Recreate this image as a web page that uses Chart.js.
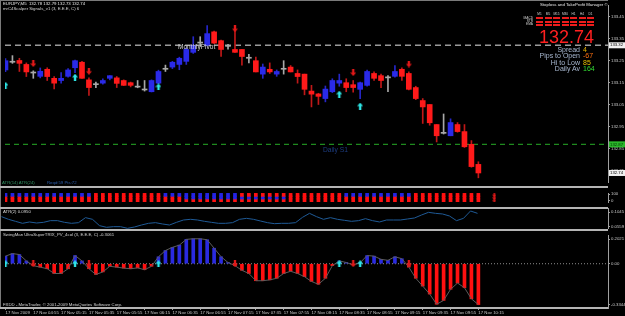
<!DOCTYPE html>
<html>
<head>
<meta charset="utf-8">
<script src="https://cdn.jsdelivr.net/npm/chart.js@4.4.1/dist/chart.umd.min.js"></script>
<style>
body { margin: 0; background: #000; width: 625px; height: 316px; overflow: hidden; position: relative; font-family: "Liberation Sans", Arial, sans-serif; }
canvas { position: absolute; left: 0; }
.t { position: absolute; white-space: nowrap; line-height: 1; }
.ln { position: absolute; background: #b4b4b4; z-index: 5; }
.cell { position: absolute; background: #ee1c1c; }
</style>
</head>
<body>
<canvas id="main" width="625" height="187" style="top:0"></canvas>
<canvas id="sig" width="625" height="19" style="top:188px"></canvas>
<canvas id="atr" width="625" height="21" style="top:208px"></canvas>
<canvas id="osc" width="625" height="86" style="top:230px"></canvas>

<div class="ln" style="left:0;top:0;width:608px;height:1px;background:#7a7a7a"></div>
<div class="ln" style="left:0;top:0;width:1px;height:309px;background:#7a7a7a"></div>
<div class="ln" style="left:0;top:186px;width:608px;height:2px"></div>
<div class="ln" style="left:0;top:207px;width:608px;height:1.5px"></div>
<div class="ln" style="left:0;top:229px;width:608px;height:1.5px"></div>
<div class="ln" style="left:0;top:307px;width:608px;height:1.5px"></div>

<div class="t" style="left:3px;top:2px;font-size:4.3px;color:#e6e6e6">EURJPY,M5&nbsp; 132.78 132.79 132.73 132.74</div>
<div class="t" style="left:3px;top:7px;font-size:4.3px;color:#d6d6d6">mrC4Scalper Signals_v1 (3, E.E.E, C) 6</div>
<div class="t" style="left:178px;top:44px;font-size:6.5px;color:#d8d8d8">MonthlyPivot</div>
<div class="t" style="left:323px;top:146.5px;font-size:6.7px;color:#1d3d80">Daily S1</div>
<div class="t" style="left:2px;top:181px;font-size:4.3px;color:#2f8f5f">ATR(14) ATR(24)</div>
<div class="t" style="left:47px;top:181px;font-size:4.3px;color:#2a5caa">Reqd:59 Pts:72</div>
<div class="t" style="left:540px;top:3px;font-size:4.3px;color:#e6e6e6">Stoploss and TakeProfit Manager ©</div>
<div class="t" style="left:539px;top:27.6px;font-size:18px;color:#ff2020">132.74</div>
<div id="stats"></div>
<div id="matrix"></div>
<div class="t" style="left:3px;top:210px;font-size:4.3px;color:#d6d6d6">ATR(2) 0.0950</div>
<div class="t" style="left:3px;top:233px;font-size:4.3px;color:#d6d6d6">SwingMan UltraSuperTRIX_PV_4col (3, E.E.E, C) -0.3061</div>
<div class="t" style="left:3px;top:302.5px;font-size:4.3px;color:#d6d6d6">FXDD - MetaTrader, © 2001-2009 MetaQuotes Software Corp.</div>

<script>
// EURJPY M5, 17 Nov 2009 04:35 .. 10:15 (69 bars)
const opens = [133.208,133.243,133.251,133.233,133.194,133.179,133.211,133.170,133.160,133.179,133.218,133.243,133.163,133.141,133.148,133.170,133.172,133.160,133.150,133.130,133.117,133.109,133.148,133.211,133.221,133.233,133.247,133.288,133.330,133.320,133.381,133.341,133.315,133.301,133.301,133.261,133.250,133.189,133.211,133.189,133.211,133.221,133.192,133.189,133.112,133.099,133.078,133.109,133.148,133.150,133.141,133.120,133.138,133.192,133.182,133.172,133.179,133.211,133.192,133.128,133.069,133.051,132.960,132.920,132.909,132.960,132.928,132.870,132.779];
const highs = [133.260,133.273,133.261,133.240,133.204,133.217,133.218,133.178,133.196,133.214,133.253,133.247,133.172,133.153,133.168,133.182,133.178,133.163,133.153,133.160,133.160,133.163,133.207,133.230,133.247,133.266,133.308,133.359,133.359,133.409,133.385,133.344,133.324,133.385,133.301,133.279,133.266,133.235,133.240,133.208,133.250,133.228,133.208,133.189,133.138,133.102,133.135,133.168,133.189,133.168,133.160,133.153,133.207,133.199,133.189,133.182,133.228,133.218,133.199,133.134,133.078,133.051,132.960,133.008,132.986,132.969,132.960,132.887,132.791];
const lows = [133.200,133.238,133.201,133.178,133.170,133.172,133.160,133.122,133.148,133.175,133.196,133.169,133.092,133.128,133.143,133.163,133.128,133.137,133.131,133.127,133.112,133.108,133.146,133.201,133.214,133.209,133.233,133.283,133.315,133.317,133.327,133.269,133.302,133.288,133.230,133.240,133.199,133.170,133.192,133.179,133.189,133.199,133.148,133.095,133.040,133.051,133.063,133.105,133.134,133.109,133.107,133.078,133.134,133.160,133.128,133.109,133.175,133.160,133.117,133.073,132.965,132.957,132.881,132.917,132.909,132.925,132.856,132.766,132.718];
const closes = [133.250,133.243,133.238,133.199,133.194,133.202,133.178,133.148,133.170,133.208,133.250,133.170,133.128,133.141,133.160,133.182,133.147,133.138,133.138,133.130,133.117,133.160,133.201,133.211,133.243,133.261,133.301,133.320,133.330,133.373,133.330,133.301,133.315,133.288,133.269,133.261,133.199,133.221,133.199,133.201,133.211,133.199,133.178,133.120,133.098,133.088,133.121,133.160,133.160,133.128,133.128,133.150,133.201,133.170,133.160,133.172,133.201,133.179,133.120,133.078,133.040,132.968,132.909,132.920,132.969,132.928,132.859,132.769,132.740];

// scalper signals: buy arrows under bars, sell arrows over bars
const buyBars = [0, 10, 22, 48, 51];
const buyPrices = [133.138, 133.175, 133.131, 133.098, 133.044];
const sellBars = [4, 12, 33, 50, 58];
const sellPrices = [133.237, 133.202, 133.395, 133.196, 133.235];

const monthlyPivot = 133.32;
const dailyS1 = 132.87;
const lastPrice = 132.74;
const priceTicks = [133.45, 133.35, 133.25, 133.15, 133.05, 132.95, 132.85, 132.75];

// signal matrix rows (B = blue, R = red)
const sigRow1 = 'BBBBBBBBBBBBBRRRRRRRRRRBBBBBBBBBBBRRRRRRRRRRRRRRRBBBBBBBBBBRRRRRRRRRR';
const sigRow2 = 'RRRRRRRRRRRRRRRRRRRRRRRRRRBBBBBBBBBBBBBBBRRRRRRRRRRRRRRRRRRRRRRRRRRRR';
const sigRow3 = 'RRRRRRRRRRRRRRRRRRRRRRRRRRRRRRRRRRRRRRRRRRRRRRRRRRRRRRRRRRRRRRRRRRRRR';
const sigRowLevels = [88, 50, 10];
const sigTicks = [100, 0];

const atrValues = [0.0898,0.0808,0.0740,0.0673,0.0718,0.0684,0.0706,0.0763,0.0763,0.0706,0.0673,0.0695,0.0864,0.0808,0.0594,0.0538,0.0560,0.0560,0.0504,0.0549,0.0616,0.0673,0.0695,0.0650,0.0616,0.0706,0.0785,0.0808,0.0785,0.0740,0.0706,0.0673,0.0673,0.0695,0.0808,0.0841,0.0808,0.0751,0.0695,0.0661,0.0673,0.0673,0.0695,0.0875,0.1010,0.0898,0.0808,0.0864,0.0808,0.0774,0.0740,0.0763,0.0830,0.0763,0.0718,0.0785,0.0785,0.0785,0.0819,0.0853,0.0954,0.1044,0.1010,0.0988,0.0920,0.0763,0.0841,0.1089,0.1010];
const atrTicks = [0.1045, 0.0559];

const trixValues = [0.062,0.083,0.075,0.023,-0.016,-0.028,-0.041,-0.080,-0.080,-0.041,0.067,0.023,-0.041,-0.088,-0.067,-0.021,-0.028,-0.036,-0.041,-0.034,-0.049,-0.021,0.057,0.108,0.134,0.152,0.199,0.204,0.204,0.196,0.127,0.057,0.010,-0.016,-0.054,-0.080,-0.139,-0.139,-0.132,-0.119,-0.080,-0.062,-0.080,-0.106,-0.145,-0.168,-0.119,-0.016,0.023,0.010,-0.010,0.008,0.067,0.062,0.036,0.028,0.057,0.041,-0.028,-0.119,-0.183,-0.248,-0.331,-0.300,-0.209,-0.158,-0.196,-0.287,-0.334];
const trixTicks = [0.2021, 0, -0.3344];

const timeTickBars = [0,4,8,12,16,20,24,28,32,36,40,44,48,52,56,60,64,68];
const timeLabels = ['17 Nov 2009','17 Nov 04:55','17 Nov 05:15','17 Nov 05:35','17 Nov 05:55','17 Nov 06:15','17 Nov 06:35','17 Nov 06:55','17 Nov 07:15','17 Nov 07:35','17 Nov 07:55','17 Nov 08:15','17 Nov 08:35','17 Nov 08:55','17 Nov 09:15','17 Nov 09:35','17 Nov 09:55','17 Nov 10:15'];

const stats = [['Spread', '4', '#e8b400'], ['Pips to Open', '-67', '#ff7010'], ['Hi to Low', '85', '#e8c000'], ['Daily Av', '164', '#33dd33']];
const tfLabels = ['M1', 'M5', 'M15', 'M30', 'H1', 'H4', 'D1'];
const tfRows = ['MACD', 'STR', 'EMA'];

const XMIN = -0.07, XMAX = 86.64;
const BLUE = '#2a2ae8', RED = '#ff1a1a', GREY = '#a8a8a8';
const bars = opens.map((_, i) => i);
const axisFont = { family: 'Liberation Sans', size: 4.3 };

// info panel text
const statsBox = document.getElementById('stats');
stats.forEach((s, k) => {
    const top = 45.8 + k * 6.4;
    statsBox.innerHTML += `<div class="t" style="right:45px;top:${top}px;font-size:7px;color:#a8b8d0">${s[0]}</div>` +
        `<div class="t" style="left:583px;top:${top}px;font-size:7px;color:${s[2]}">${s[1]}</div>`;
});
const matrixBox = document.getElementById('matrix');
tfLabels.forEach((l, c) => {
    matrixBox.innerHTML += `<div class="t" style="left:${536 + c * 8.5}px;width:7px;text-align:center;top:12.5px;font-size:3.2px;color:#d0d0d0">${l}</div>`;
    tfRows.forEach((r, k) => {
        matrixBox.innerHTML += `<div class="cell" style="left:${536 + c * 8.5}px;top:${17.3 + k * 3.3}px;width:7px;height:2px"></div>`;
    });
});
tfRows.forEach((r, k) => {
    matrixBox.innerHTML += `<div class="t" style="right:92px;top:${16.6 + k * 3.3}px;font-size:3.2px;color:#d0d0d0">${r}</div>`;
});

function makeArrow(color, up, w, h) {
    const c = document.createElement('canvas');
    c.width = w; c.height = h;
    const g = c.getContext('2d');
    const m = h * 0.5, s1 = w * 0.3, s2 = w * 0.7;
    g.fillStyle = color;
    g.beginPath();
    if (up) {
        g.moveTo(w / 2, 0); g.lineTo(w, m); g.lineTo(s2, m); g.lineTo(s2, h); g.lineTo(s1, h); g.lineTo(s1, m); g.lineTo(0, m);
    } else {
        g.moveTo(w / 2, h); g.lineTo(w, m); g.lineTo(s2, m); g.lineTo(s2, 0); g.lineTo(s1, 0); g.lineTo(s1, m); g.lineTo(0, m);
    }
    g.closePath();
    g.fill();
    return c;
}
const upArrow = makeArrow('#2ee6e6', true, 6, 7);
const downArrow = makeArrow('#e01818', false, 6, 7);
const tinyDown = makeArrow('#e01818', false, 4, 5);

function fixedWidth(scale) {
    scale.width = 17;
    scale.paddingTop = 0;
    scale.paddingBottom = 0;
}
function rightAxis(min, max, ticks, fmt) {
    return {
        position: 'right', min: min, max: max,
        afterFit: fixedWidth,
        afterBuildTicks: s => { s.ticks = ticks.map(v => ({ value: v })); },
        ticks: { callback: fmt, font: axisFont, color: '#c8c8c8', padding: 1 },
        grid: { drawOnChartArea: false, color: '#a0a0a0', tickLength: 2 },
        border: { color: '#a0a0a0' }
    };
}
const hiddenX = { type: 'linear', min: XMIN, max: XMAX, display: false, offset: false };
const baseOptions = {
    responsive: false, animation: false, devicePixelRatio: 1, events: [],
    plugins: { legend: { display: false }, tooltip: { enabled: false } }
};

function candleColor(i, up, down, flat) {
    if (closes[i] > opens[i]) return up;
    if (closes[i] < opens[i]) return down;
    return flat;
}

// price boxes drawn on the right axis
const priceBoxes = [
    { value: monthlyPivot, bg: '#f0f0f0', fg: '#000' },
    { value: dailyS1, bg: '#2ab82a', fg: '#003000' },
    { value: lastPrice, bg: '#f0f0f0', fg: '#000' }
];
const priceBoxPlugin = {
    id: 'priceBoxes',
    afterDraw(chart) {
        const y = chart.scales.y, ctx = chart.ctx;
        ctx.save();
        ctx.font = '4.3px "Liberation Sans"';
        ctx.textBaseline = 'middle';
        priceBoxes.forEach(b => {
            const py = y.getPixelForValue(b.value);
            ctx.fillStyle = b.bg;
            ctx.fillRect(609, py - 3, 16, 6);
            ctx.fillStyle = b.fg;
            ctx.fillText(b.value.toFixed(2), 610, py);
        });
        ctx.restore();
    }
};

new Chart(document.getElementById('main'), {
    type: 'bar',
    data: {
        datasets: [
            {
                type: 'bar', order: 3, grouped: false, barThickness: 1,
                data: bars.map(i => ({ x: i, y: [lows[i], highs[i]] })),
                backgroundColor: bars.map(i => candleColor(i, '#2626c8', '#c01818', GREY))
            },
            {
                type: 'bar', order: 2, grouped: false, barThickness: 5, minBarLength: 1,
                data: bars.map(i => ({ x: i, y: [opens[i], closes[i]] })),
                backgroundColor: bars.map(i => candleColor(i, BLUE, RED, GREY))
            },
            {
                type: 'line', order: 5, pointRadius: 0, borderWidth: 1.5, borderDash: [6, 4], borderColor: '#9a9a9a',
                data: [{ x: XMIN, y: monthlyPivot }, { x: XMAX, y: monthlyPivot }]
            },
            {
                type: 'line', order: 5, pointRadius: 0, borderWidth: 1.2, borderDash: [5, 4], borderColor: '#1f8a1f',
                data: [{ x: XMIN, y: dailyS1 }, { x: XMAX, y: dailyS1 }]
            },
            {
                type: 'scatter', order: 0, pointStyle: upArrow,
                data: buyBars.map((b, k) => ({ x: b, y: buyPrices[k] }))
            },
            {
                type: 'scatter', order: 0, pointStyle: downArrow,
                data: sellBars.map((b, k) => ({ x: b, y: sellPrices[k] }))
            }
        ]
    },
    options: Object.assign({}, baseOptions, {
        layout: { padding: { left: 1, top: 1, bottom: 1, right: 0 } },
        scales: {
            x: hiddenX,
            y: rightAxis(132.699, 133.503, priceTicks, v => v.toFixed(2))
        }
    }),
    plugins: [priceBoxPlugin]
});

const sigColor = ch => ch === 'B' ? '#2424e6' : '#ff1010';
new Chart(document.getElementById('sig'), {
    type: 'scatter',
    data: {
        datasets: [sigRow1, sigRow2, sigRow3].map((row, r) => ({
            data: bars.map(i => ({ x: i, y: sigRowLevels[r] })),
            pointStyle: 'rect', pointRadius: 2.6, pointBorderWidth: 0,
            pointBackgroundColor: bars.map(i => sigColor(row[i]))
        })).concat([{
            data: sigRowLevels.map(v => ({ x: 70.3, y: v })),
            pointStyle: tinyDown
        }])
    },
    options: Object.assign({}, baseOptions, {
        layout: { padding: { left: 1, top: 0, bottom: 0, right: 0 } },
        scales: {
            x: hiddenX,
            y: rightAxis(-15, 115, sigTicks, v => String(v))
        }
    })
});

new Chart(document.getElementById('atr'), {
    type: 'line',
    data: {
        datasets: [{
            data: bars.map(i => ({ x: i, y: atrValues[i] })),
            borderColor: '#1f5a96', borderWidth: 1, pointRadius: 0, tension: 0
        }]
    },
    options: Object.assign({}, baseOptions, {
        layout: { padding: { left: 1, top: 0, bottom: 0, right: 0 } },
        scales: {
            x: hiddenX,
            y: rightAxis(0.0481, 0.1190, atrTicks, v => v.toFixed(4))
        }
    })
});

new Chart(document.getElementById('osc'), {
    type: 'bar',
    data: {
        datasets: [
            {
                type: 'bar', order: 3, grouped: false, barThickness: 3,
                data: bars.map(i => ({ x: i, y: trixValues[i] })),
                backgroundColor: bars.map(i => trixValues[i] >= 0 ? '#2a2ae0' : '#ff1010')
            },
            {
                type: 'line', order: 2, pointRadius: 0, borderWidth: 1, borderColor: '#5c5c5c', tension: 0,
                data: bars.map(i => ({ x: i, y: trixValues[i] }))
            },
            {
                type: 'line', order: 4, pointRadius: 0, borderWidth: 1, borderDash: [1, 2], borderColor: '#8c8c8c',
                data: [{ x: XMIN, y: 0 }, { x: XMAX, y: 0 }]
            },
            {
                type: 'scatter', order: 0, pointStyle: upArrow,
                data: buyBars.map(b => ({ x: b, y: 0 }))
            },
            {
                type: 'scatter', order: 0, pointStyle: downArrow,
                data: sellBars.map(b => ({ x: b, y: 0 }))
            }
        ]
    },
    options: Object.assign({}, baseOptions, {
        layout: { padding: { left: 1, top: 1, bottom: 0, right: 0 } },
        scales: {
            x: {
                type: 'linear', min: XMIN, max: XMAX, offset: false, position: 'bottom',
                afterFit: s => { s.height = 8; s.paddingLeft = 0; s.paddingRight = 0; },
                afterBuildTicks: s => { s.ticks = timeTickBars.map(v => ({ value: v })); },
                ticks: {
                    autoSkip: false, maxRotation: 0, align: 'start', padding: 0,
                    font: axisFont, color: '#c8c8c8',
                    callback: v => timeLabels[timeTickBars.indexOf(v)]
                },
                grid: { drawOnChartArea: false, color: '#a0a0a0', tickLength: 2, offset: false },
                border: { display: false }
            },
            y: rightAxis(-0.3619, 0.2348, trixTicks, v => v === 0 ? '0.00' : v.toFixed(4))
        }
    })
});
</script>
</body>
</html>
